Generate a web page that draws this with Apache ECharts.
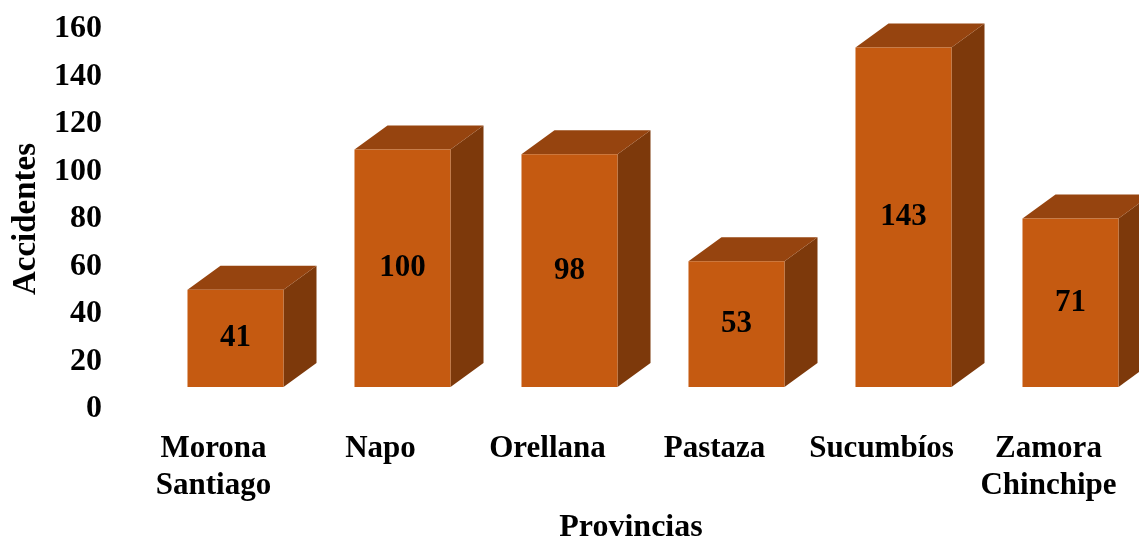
<!DOCTYPE html>
<html>
<head>
<meta charset="utf-8">
<script src="https://cdn.jsdelivr.net/npm/echarts@6/dist/echarts.min.js"></script>
<style>
  html, body { margin: 0; padding: 0; background: #fff; }
  #chart { width: 1139px; height: 538px; }
</style>
</head>
<body>
<div id="chart"></div>
<script>
var provincias = ['Morona\nSantiago', 'Napo', 'Orellana', 'Pastaza', 'Sucumbíos', 'Zamora\nChinchipe'];
var accidentes = [41, 100, 98, 53, 143, 71];
var yTicks = [0, 20, 40, 60, 80, 100, 120, 140, 160];

var FONT = "'Liberation Serif', 'Times New Roman', serif";
var frontColor = '#C55A11';
var topColor = '#96440F';
var sideColor = '#7D390B';

// excel style 3d box: front face shifted from the category slot, depth going up-right
var shiftX = 22, shiftY = 22, depthX = 33, depthY = 24;

var renderBox = function(params, api) {
    var i = api.value(0);
    var v = api.value(1);
    var topPt = api.coord([i, v]);
    var basePt = api.coord([i, 0]);
    var w = api.size([1, 0])[0] * 0.575;
    var x0 = topPt[0] + shiftX - w / 2;
    var x1 = x0 + w;
    var yT = topPt[1] - shiftY;
    var yB = basePt[1] - shiftY;
    return {
        type: 'group',
        children: [
            {
                type: 'polygon',
                shape: { points: [[x1, yT], [x1 + depthX, yT - depthY], [x1 + depthX, yB - depthY], [x1, yB]] },
                style: { fill: sideColor }
            },
            {
                type: 'polygon',
                shape: { points: [[x0, yT], [x0 + depthX, yT - depthY], [x1 + depthX, yT - depthY], [x1, yT]] },
                style: { fill: topColor }
            },
            {
                type: 'rect',
                shape: { x: x0, y: yT, width: w, height: yB - yT },
                style: { fill: frontColor }
            },
            {
                type: 'text',
                style: {
                    text: String(v),
                    x: (x0 + x1) / 2,
                    y: (yT + yB) / 2,
                    align: 'center',
                    verticalAlign: 'middle',
                    fill: '#000',
                    font: 'bold 31px ' + FONT
                }
            }
        ]
    };
};

var chart = echarts.init(document.getElementById('chart'));
chart.setOption({
    animation: false,
    grid: { left: 130, right: 7, top: 29, bottom: 129, outerBoundsMode: 'none', containLabel: false },
    xAxis: {
        type: 'category',
        data: provincias,
        name: 'Provincias',
        nameLocation: 'middle',
        nameGap: 103,
        nameTextStyle: { fontFamily: FONT, fontWeight: 'bold', fontSize: 32, color: '#000' },
        axisLine: { show: false },
        axisTick: { show: false },
        axisLabel: {
            interval: 0,
            margin: 21,
            fontFamily: FONT,
            fontWeight: 'bold',
            fontSize: 31,
            lineHeight: 37,
            color: '#000'
        }
    },
    yAxis: {
        type: 'value',
        min: yTicks[0],
        max: yTicks[yTicks.length - 1],
        interval: 20,
        name: 'Accidentes',
        nameLocation: 'middle',
        nameGap: 85,
        nameTextStyle: { fontFamily: FONT, fontWeight: 'bold', fontSize: 33, color: '#000' },
        axisLine: { show: false },
        axisTick: { show: false },
        splitLine: { show: false },
        axisLabel: {
            margin: 28,
            fontFamily: FONT,
            fontWeight: 'bold',
            fontSize: 32,
            color: '#000'
        }
    },
    series: [{
        type: 'custom',
        renderItem: renderBox,
        clip: false,
        data: accidentes.map(function(v, i) { return [i, v]; })
    }]
});
</script>
</body>
</html>
